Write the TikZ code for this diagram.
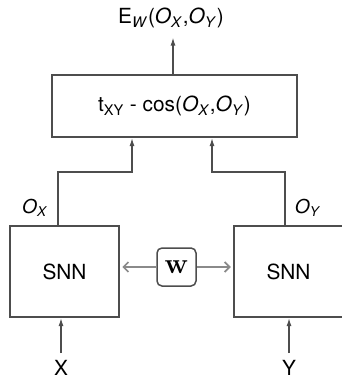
\documentclass[tikz,border=0pt]{standalone}
\usepackage[no-math]{fontspec}
\setmainfont{TeX Gyre Heros}
\usetikzlibrary{arrows.meta,calc}
\definecolor{linecol}{HTML}{4d4d4d}
\definecolor{wcol}{HTML}{8a8a8a}
\newcommand{\ox}{\textit{O}\textsubscript{\textit{X}}}
\newcommand{\oy}{\textit{O}\textsubscript{\textit{Y}}}

\begin{document}
\begin{tikzpicture}[x=0.6pt, y=-0.6pt,
		block/.style={draw=linecol, line width=0.9pt, inner sep=0pt},
		arr/.style={draw=linecol, line width=0.9pt, -{Latex[length=5pt,width=3pt]}},
		warr/.style={draw=wcol, line width=1pt, shorten >=1.5pt, -{Straight Barb[length=3pt,width=6pt]}},
	]
	\useasboundingbox (0,0) rectangle (341,378);
	\fontsize{12.5}{14}\selectfont
	\node[block, minimum width=147pt, minimum height=37.2pt] (cost) at (174.5,106) {t\textsubscript{XY} - cos(\ox,\oy)};
	\node[block, minimum width=65.4pt, minimum height=54.6pt] (snnl) at (64.5,271.5) {SNN};
	\node[block, minimum width=65.4pt, minimum height=54.6pt] (snnr) at (288.5,271.5) {SNN};
	\node[block, rounded corners=3pt, minimum width=23.4pt, minimum height=22.8pt, font=\fontsize{17}{18}\selectfont] (w) at (176.5,267) {$\mathbf{w}$};
	\node (x) at (61,368) {X};
	\node (y) at (289,368) {Y};
	\node (ew) at (171,18) {E\textsubscript{\textit{W}}(\ox,\oy)};
	\fontsize{11.5}{13}\selectfont
	\node (oxlab) at (35,208) {\ox};
	\node (oylab) at (308,208) {\oy};
	\draw[arr] ($(cost.north)+(-1.5,0)$) -- ++(0,-37);
	\draw[arr] ($(snnl.north)+(-6.5,0)$) -- ++(0,-53) -| ($(cost.south)+(-42.5,0)$);
	\draw[arr] ($(snnr.north)+(-3.5,0)$) -- ++(0,-53) -| ($(cost.south)+(37.5,0)$);
	\draw[arr] (x.north) -- (x.north |- snnl.south);
	\draw[arr] (y.north) -- (y.north |- snnr.south);
	\draw[warr] (w.west) -- (w.west -| snnl.east);
	\draw[warr] (w.east) -- (w.east -| snnr.west);
\end{tikzpicture}
\end{document}
